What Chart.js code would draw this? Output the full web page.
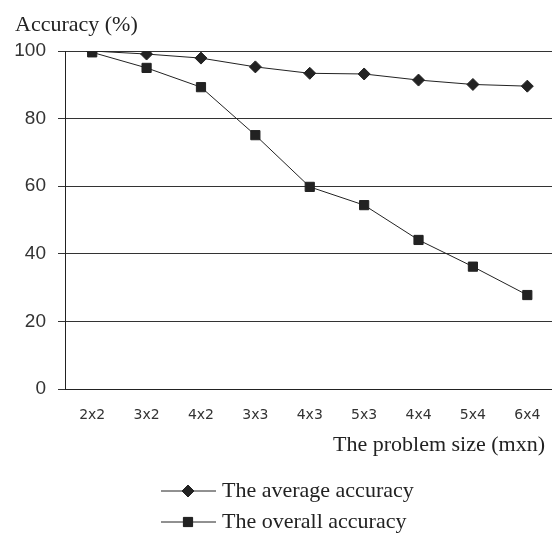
<!DOCTYPE html>
<html>
<head>
<meta charset="utf-8">
<script src="https://cdn.jsdelivr.net/npm/chart.js"></script>
<style>
  html, body { margin: 0; padding: 0; background: #fff; overflow: hidden; }
  #wrap { width: 562px; height: 536px; }
</style>
</head>
<body>
<div id="wrap"><canvas id="accChart" width="562" height="536"></canvas></div>
<script>
    // problem sizes (m x n)
    const sizes = ['2x2', '3x2', '4x2', '3x3', '4x3', '5x3', '4x4', '5x4', '6x4'];
    const averageAcc = [100, 99.1, 97.9, 95.3, 93.4, 93.2, 91.4, 90.1, 89.6];
    const overallAcc = [99.6, 95.0, 89.3, 75.1, 59.8, 54.4, 44.1, 36.2, 27.8];
    const yTicks = [0, 20, 40, 60, 80, 100];

    const ink = '#222';
    const serif = '"Liberation Serif", "Times New Roman", serif';

    // axis titles + line/marker legend, drawn by hand like the original
    const extras = {
        id: 'extras',
        afterDraw(chart) {
            const ctx = chart.ctx;
            ctx.save();
            ctx.fillStyle = ink;
            ctx.font = '22px ' + serif;
            ctx.textBaseline = 'middle';
            ctx.textAlign = 'left';
            ctx.fillText('Accuracy (%)', 15, 25);

            ctx.textAlign = 'right';
            ctx.fillText('The problem size (mxn)', 545, 445);

            ctx.textAlign = 'left';
            const rows = [491, 522];
            chart.data.datasets.forEach((ds, i) => {
                const y = rows[i];
                ctx.strokeStyle = ink;
                ctx.lineWidth = 1;
                ctx.beginPath();
                ctx.moveTo(161, y);
                ctx.lineTo(216, y);
                ctx.stroke();
                Chart.helpers.drawPoint(ctx, {
                    pointStyle: ds.pointStyle,
                    radius: ds.pointRadius,
                    borderWidth: 1
                }, 188, y);
                ctx.fillStyle = ink;
                ctx.fill();
                ctx.fillText(ds.label, 222, y);
            });
            ctx.restore();
        }
    };

    const ctx = document.getElementById('accChart').getContext('2d');
    new Chart(ctx, {
        type: 'line',
        data: {
            labels: sizes,
            datasets: [{
                label: 'The average accuracy',
                data: averageAcc,
                borderColor: ink,
                backgroundColor: ink,
                borderWidth: 1,
                pointStyle: 'rectRot',
                pointRadius: 6,
                pointBorderWidth: 1,
                tension: 0
            }, {
                label: 'The overall accuracy',
                data: overallAcc,
                borderColor: ink,
                backgroundColor: ink,
                borderWidth: 1,
                pointStyle: 'rect',
                pointRadius: 6.5,
                pointBorderWidth: 1,
                tension: 0
            }]
        },
        options: {
            responsive: false,
            animation: false,
            layout: { padding: { top: 51, left: 0, right: 0, bottom: 0 } },
            plugins: {
                legend: { display: false },
                tooltip: { enabled: false }
            },
            scales: {
                x: {
                    offset: true,
                    grid: { display: false },
                    border: { display: true, color: ink, width: 1 },
                    ticks: {
                        color: '#333',
                        font: { family: 'Tahoma, "DejaVu Sans", sans-serif', size: 14 },
                        padding: 10,
                        maxRotation: 0
                    },
                    afterFit(scale) { scale.height = 147; }
                },
                y: {
                    min: 0,
                    max: 100,
                    afterBuildTicks(scale) { scale.ticks = yTicks.map(v => ({ value: v })); },
                    grid: { color: '#333', lineWidth: 1, tickLength: 7, drawTicks: true },
                    border: { display: true, color: ink, width: 1 },
                    ticks: {
                        color: '#333',
                        font: { family: '"Liberation Sans", Arial, sans-serif', size: 19 },
                        padding: 12
                    },
                    afterFit(scale) { scale.width = 65; }
                }
            }
        },
        plugins: [extras]
    });
</script>
</body>
</html>
